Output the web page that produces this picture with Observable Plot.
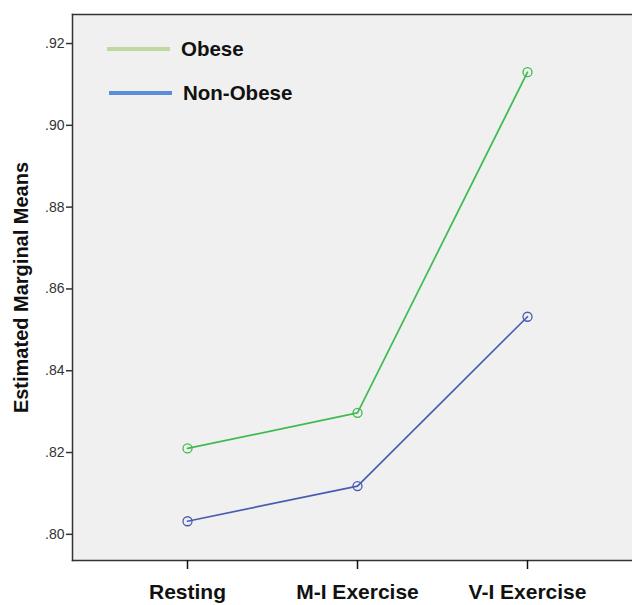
<!DOCTYPE html>
<html>
<head>
<meta charset="utf-8">
<script src="https://cdn.jsdelivr.net/npm/d3@7"></script>
<script src="https://cdn.jsdelivr.net/npm/@observablehq/plot@0.6"></script>
<style>
  body { margin: 0; background: #fff; font-family: "Liberation Sans", Arial, sans-serif; }
  #wrap { position: relative; width: 632px; height: 605px; }
  .legend { position: absolute; left: 0; top: 0; pointer-events: none; }
  .item { position: absolute; display: flex; align-items: center; white-space: nowrap; font-weight: bold; font-size: 20.5px; color: #111; }
  .swatch { display: inline-block; width: 63px; height: 4px; margin-right: 11px; }
</style>
</head>
<body>
<div id="wrap"></div>
<script>
const conditions = ["Resting", "M-I Exercise", "V-I Exercise"];
const groups = ["Obese", "Non-Obese"];
const obese = [0.821, 0.8297, 0.913];
const nonObese = [0.8032, 0.8118, 0.8532];
const yTicks = [0.80, 0.82, 0.84, 0.86, 0.88, 0.90, 0.92];
const lineColors = ["#3dbb4f", "#4a5cb0"];
const legendColors = ["#bfd9a0", "#5a8ed8"];

const data = [];
conditions.forEach((c, i) => {
  data.push({condition: c, group: groups[0], value: obese[i]});
  data.push({condition: c, group: groups[1], value: nonObese[i]});
});

const fmt = d => d3.format(".2f")(d).replace(/^0\./, ".");

const chart = Plot.plot({
  width: 632,
  height: 605,
  marginLeft: 72,
  marginRight: 0,
  marginTop: 14,
  marginBottom: 45,
  style: {fontFamily: "'Liberation Sans', Arial, sans-serif", background: "#fff"},
  x: {type: "point", domain: conditions, padding: 0.6, insetLeft: 12, insetRight: 3, label: null},
  y: {domain: [0.7936, 0.9271], label: null},
  color: {domain: groups, range: lineColors},
  marks: [
    Plot.frame({fill: "#f0f0f0", stroke: null}),
    Plot.frame({anchor: "left", stroke: "#333", strokeWidth: 1.5}),
    Plot.frame({anchor: "top", stroke: "#333", strokeWidth: 1.5}),
    Plot.frame({anchor: "bottom", stroke: "#333", strokeWidth: 1.5}),
    Plot.axisY({ticks: yTicks, tickFormat: fmt, tickSize: 6, tickPadding: 2, fontSize: 14, color: "#333", strokeWidth: 1.5, label: null}),
    Plot.axisX({tickSize: 9, tickPadding: 15, fontSize: 21, fontWeight: "bold", color: "#111", strokeWidth: 1.5, label: null}),
    Plot.text(["Estimated Marginal Means"], {frameAnchor: "left", textAnchor: "middle", rotate: -90, dx: -51, fontSize: 20, fontWeight: "bold", fill: "#111"}),
    Plot.line(data, {x: "condition", y: "value", z: "group", stroke: "group", strokeWidth: 1.7}),
    Plot.dot(data, {x: "condition", y: "value", stroke: "group", r: 4.5, strokeWidth: 1.3, fill: "none"})
  ]
});

const wrap = document.getElementById("wrap");
wrap.appendChild(chart);

const legend = document.createElement("div");
legend.className = "legend";
const legendPos = [[107, 37], [109, 81]];
groups.forEach((g, i) => {
  const item = document.createElement("div");
  item.className = "item";
  item.style.left = legendPos[i][0] + "px";
  item.style.top = legendPos[i][1] + "px";
  const sw = document.createElement("span");
  sw.className = "swatch";
  sw.style.background = legendColors[i];
  item.appendChild(sw);
  item.appendChild(document.createTextNode(g));
  legend.appendChild(item);
});
wrap.appendChild(legend);
</script>
</body>
</html>
